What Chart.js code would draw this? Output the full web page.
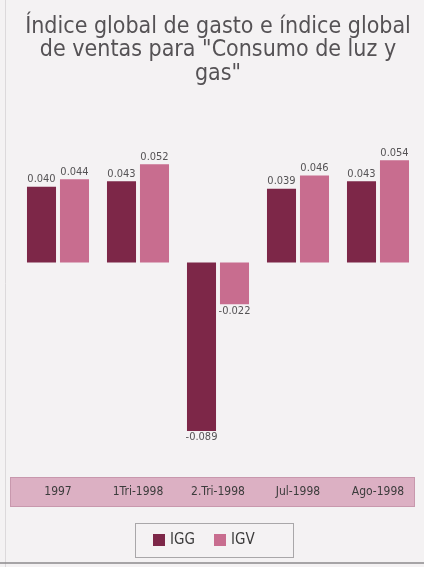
<!DOCTYPE html>
<html>
<head>
<meta charset="utf-8">
<script src="https://cdn.jsdelivr.net/npm/chart.js@4.4.1/dist/chart.umd.min.js"></script>
<style>
  html, body { margin: 0; padding: 0; background: #f4f2f3; }
  #wrap { width: 424px; height: 567px; }
</style>
</head>
<body>
<div id="wrap"><canvas id="chart" width="424" height="567"></canvas></div>
<script>
const titleLines = ['Índice global de gasto e índice global', 'de ventas para "Consumo de luz y', 'gas"'];
const categories = ['1997', '1Tri-1998', '2.Tri-1998', 'Jul-1998', 'Ago-1998'];
const iggValues = [0.040, 0.043, -0.089, 0.039, 0.043];
const igvValues = [0.044, 0.052, -0.022, 0.046, 0.054];

const NARROW = "'Liberation Sans Narrow', 'DejaVu Sans Condensed', sans-serif";
const IGG_COLOR = '#7d2748';
const IGV_COLOR = '#c86d8f';
const TICK_FONT_SIZE = 12;
const TICK_GAP = 43;   // hidden tick length, pushes the labels down into the band
const TICK_PADDING = 2;

// paper background, pink label band and bottom rule
const backdropPlugin = {
  id: 'backdrop',
  beforeDraw(chart) {
    const { ctx, width, height } = chart;
    const x = chart.scales.x;
    ctx.save();
    ctx.fillStyle = '#f4f2f3';
    ctx.fillRect(0, 0, width, height);
    ctx.strokeStyle = '#dcd9db';
    ctx.lineWidth = 1;
    ctx.beginPath();
    ctx.moveTo(5.5, 0);
    ctx.lineTo(5.5, height);
    ctx.stroke();
    const labelMid = x.top + TICK_GAP + TICK_PADDING + TICK_FONT_SIZE * 0.6;
    const bandTop = Math.round(labelMid - 15);
    ctx.fillStyle = '#dcb0c3';
    ctx.fillRect(10, bandTop, 405, 30);
    ctx.strokeStyle = '#c898ad';
    ctx.strokeRect(10.5, bandTop + 0.5, 404, 29);
    ctx.strokeStyle = '#8c8a8c';
    ctx.lineWidth = 1.5;
    ctx.beginPath();
    ctx.moveTo(0, 563);
    ctx.lineTo(width, 563);
    ctx.stroke();
    ctx.restore();
  },
};

// value labels above (or under) each bar
const valueLabelPlugin = {
  id: 'valueLabels',
  afterDatasetsDraw(chart) {
    const { ctx } = chart;
    ctx.save();
    ctx.font = `11px ${NARROW}`;
    ctx.fillStyle = '#555355';
    ctx.textAlign = 'center';
    chart.data.datasets.forEach((ds, di) => {
      chart.getDatasetMeta(di).data.forEach((bar, i) => {
        const v = ds.data[i];
        if (v >= 0) {
          ctx.textBaseline = 'bottom';
          ctx.fillText(v.toFixed(3), bar.x, bar.y - 2);
        } else {
          ctx.textBaseline = 'top';
          ctx.fillText(v.toFixed(3), bar.x, bar.y + 1);
        }
      });
    });
    ctx.restore();
  },
};

// framed legend under the band, built from the datasets
const legendPlugin = {
  id: 'framedLegend',
  afterDraw(chart) {
    const { ctx } = chart;
    const boxLeft = 135;
    const boxTop = 523;
    ctx.save();
    ctx.strokeStyle = '#a9a7a9';
    ctx.lineWidth = 1;
    ctx.strokeRect(boxLeft + 0.5, boxTop + 0.5, 158, 34);
    ctx.font = `15px ${NARROW}`;
    ctx.textBaseline = 'middle';
    ctx.textAlign = 'left';
    let cx = boxLeft + 18;
    chart.data.datasets.forEach((ds) => {
      ctx.fillStyle = ds.backgroundColor;
      ctx.fillRect(cx, boxTop + 11, 12, 12);
      ctx.fillStyle = '#3c3c3c';
      ctx.fillText(ds.label, cx + 17, boxTop + 17.5);
      cx += 61;
    });
    ctx.restore();
  },
};

new Chart(document.getElementById('chart'), {
  type: 'bar',
  data: {
    labels: categories,
    datasets: [
      { label: 'IGG', data: iggValues, backgroundColor: IGG_COLOR },
      { label: 'IGV', data: igvValues, backgroundColor: IGV_COLOR },
    ],
  },
  options: {
    responsive: false,
    animation: false,
    devicePixelRatio: 1,
    layout: { padding: { top: 15, left: 18, right: 6, bottom: 67 } },
    datasets: { bar: { categoryPercentage: 0.825, barPercentage: 0.88 } },
    scales: {
      x: {
        grid: { display: false, drawTicks: true, tickLength: TICK_GAP },
        border: { display: false },
        ticks: {
          color: '#3c3c3c',
          font: { family: NARROW, size: TICK_FONT_SIZE },
          padding: TICK_PADDING,
          maxRotation: 0,
          autoSkip: false,
        },
        afterFit(scale) { scale.height = 60; },
      },
      y: { display: false, min: -0.0937, max: 0.0598 },
    },
    plugins: {
      title: {
        display: true,
        text: titleLines,
        color: '#555255',
        font: { family: NARROW, size: 23, weight: 'normal', lineHeight: 1.02 },
        padding: { top: 0, bottom: 64 },
      },
      legend: { display: false },
      tooltip: { enabled: false },
    },
  },
  plugins: [backdropPlugin, valueLabelPlugin, legendPlugin],
});
</script>
</body>
</html>
